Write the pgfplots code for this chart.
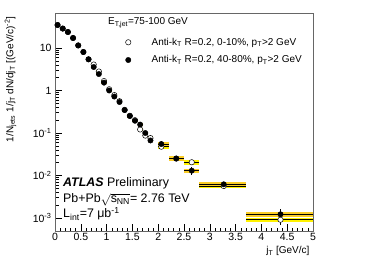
\documentclass[border=0pt]{standalone}
\usepackage{fontspec}
\setmainfont{Liberation Sans}
\usepackage{pgfplots}
\usepackage{pgfplotstable}
\pgfplotsset{compat=1.18}
\definecolor{sysyel}{RGB}{255,242,0}
\definecolor{sysorg}{RGB}{250,205,40}

% 0-10% (open)
\pgfplotstableread{
x y xm xp ey sy
0.05 34.8 0.05 0.05 0.3 2.0
0.15 28.7 0.05 0.05 0.3 1.7
0.25 23.8 0.05 0.05 0.3 1.4
0.35 17.2 0.05 0.05 0.2 1.0
0.45 11.5 0.05 0.05 0.15 0.7
0.55 8.05 0.05 0.05 0.1 0.5
0.65 5.42 0.05 0.05 0.08 0.35
0.75 4.09 0.05 0.05 0.06 0.28
0.85 2.80 0.05 0.05 0.05 0.2
0.95 1.67 0.05 0.05 0.03 0.12
1.05 1.07 0.05 0.05 0.02 0.08
1.15 0.78 0.05 0.05 0.015 0.06
1.25 0.56 0.05 0.05 0.012 0.045
1.35 0.35 0.05 0.05 0.01 0.03
1.45 0.255 0.05 0.05 0.008 0.022
1.55 0.20 0.05 0.05 0.007 0.018
1.65 0.121 0.05 0.05 0.006 0.011
1.75 0.087 0.05 0.05 0.005 0.008
1.85 0.076 0.05 0.05 0.005 0.007
2.06 0.0476 0.06 0.14 0.004 0.0057
2.35 0.0250 0.15 0.15 0.002 0.003
2.65 0.0205 0.15 0.15 0.002 0.0025
3.27 0.00566 0.47 0.43 0.0005 0.00068
4.37 0.00091 0.67 0.63 0.00022 0.00011
}\opendata

% 40-80% (filled)
\pgfplotstableread{
x y xm xp ey sy
0.05 34.8 0.05 0.05 0.5 2.0
0.15 28.7 0.05 0.05 0.4 1.7
0.25 23.8 0.05 0.05 0.4 1.4
0.35 17.2 0.05 0.05 0.3 1.0
0.45 11.5 0.05 0.05 0.2 0.7
0.55 8.05 0.05 0.05 0.15 0.5
0.65 5.42 0.05 0.05 0.12 0.35
0.75 3.57 0.05 0.05 0.1 0.25
0.85 2.44 0.05 0.05 0.08 0.17
0.95 1.53 0.05 0.05 0.06 0.11
1.05 1.00 0.05 0.05 0.04 0.07
1.15 0.72 0.05 0.05 0.03 0.05
1.25 0.536 0.05 0.05 0.025 0.04
1.35 0.347 0.05 0.05 0.02 0.025
1.45 0.251 0.05 0.05 0.015 0.02
1.55 0.194 0.05 0.05 0.013 0.015
1.65 0.158 0.05 0.05 0.012 0.012
1.75 0.100 0.05 0.05 0.01 0.008
1.85 0.0667 0.05 0.05 0.01 0.006
2.06 0.055 0.06 0.14 0.009 0.0066
2.35 0.0251 0.15 0.15 0.003 0.003
2.65 0.0130 0.15 0.15 0.003 0.0016
3.27 0.0062 0.47 0.43 0.0007 0.00074
4.37 0.00122 0.67 0.63 0.00042 0.00015
}\blackdata

\newcommand{\sysbox}[5]{\addplot[fill=#5, draw=none, forget plot] coordinates {(#1,#3)(#2,#3)(#2,#4)(#1,#4)};}

\begin{document}
\begin{tikzpicture}
\begin{axis}[
  name=ax,
  scale only axis, width=258pt, height=218pt,
  xmin=0, xmax=5, ymode=log, ymin=4.94e-4, ymax=66.7,
  xtick={0,0.5,...,5}, minor x tick num=4,
  ytick={1e-3,1e-2,1e-1,1,10},
  yticklabels={10\textsuperscript{-3},10\textsuperscript{-2},10\textsuperscript{-1},1,10},
  /pgf/number format/assume math mode=true,
  tick align=inside, xtick pos=bottom, ytick pos=left,
  major tick length=7pt, minor tick length=3.5pt,
  tick style={black, line width=0.5pt},
  axis line style={black!60, line width=0.6pt},
  ticklabel style={font=\fontsize{10.5}{12}\selectfont},
  xticklabel style={yshift=1pt},
  label style={font=\fontsize{10.5}{12}\selectfont},
  xlabel={j\textsubscript{T} [GeV/c]},
  ylabel={1/N\textsubscript{jets} 1/j\textsubscript{T} dN/dj\textsubscript{T} [(GeV/c)\textsuperscript{-2}]},
  every axis x label/.style={at={(rel axis cs:1,0)}, anchor=north east, yshift=-12pt},
  every axis y label/.style={at={(rel axis cs:-0.136,1)}, rotate=90, anchor=south east},
  legend style={draw=none, fill=none, at={(rel axis cs:0.233,0.905)}, anchor=north west,
    font=\fontsize{10}{11}\selectfont, row sep=5pt},
  legend cell align=left,
  legend image code/.code={\path[draw=none] (0cm,0cm) -- (1.1cm,0cm); \path[#1, draw=none] plot coordinates {(0.35cm,0cm)};},
  clip=true,
]
% legend entries
\addlegendimage{only marks, mark=*, mark size=2.7pt, mark options={fill=white, draw=black, line width=0.5pt}}
\addlegendentry{Anti-k\textsubscript{T} R=0.2, 0-10\%, p\textsubscript{T}>2 GeV}
\addlegendimage{only marks, mark=*, mark size=2.7pt, mark options={fill=black, draw=black}}
\addlegendentry{Anti-k\textsubscript{T} R=0.2, 40-80\%, p\textsubscript{T}>2 GeV}
% systematic boxes, wide bins
\sysbox{2.0}{2.2}{0.0419}{0.0533}{sysyel}
\sysbox{2.2}{2.5}{0.0220}{0.0280}{sysyel}
\sysbox{2.5}{2.8}{0.0180}{0.0230}{sysyel}
\sysbox{2.8}{3.7}{0.00498}{0.00634}{sysyel}
\sysbox{3.7}{5.0}{0.00080}{0.00102}{sysyel}
\sysbox{2.0}{2.2}{0.0484}{0.0616}{sysorg}
\sysbox{2.2}{2.5}{0.0221}{0.0281}{sysorg}
\sysbox{2.5}{2.8}{0.0114}{0.0146}{sysorg}
\sysbox{2.8}{3.7}{0.00546}{0.00694}{sysorg}
\sysbox{3.7}{5.0}{0.00107}{0.00137}{sysorg}
% systematic, narrow bins (bar width = 0.1 unit)
\addplot[only marks, mark=none, forget plot,
  error bars/.cd, y dir=both, y explicit, error mark=none,
  error bar style={line width=5.1pt, draw=sysyel}]
  table[x=x, y=y, y error=sy, restrict x to domain=0:1.9] {\opendata};
\addplot[only marks, mark=none, forget plot,
  error bars/.cd, y dir=both, y explicit, error mark=none,
  error bar style={line width=5.1pt, draw=sysorg}]
  table[x=x, y=y, y error=sy, restrict x to domain=0:1.9] {\blackdata};
% data
\addplot[only marks, forget plot, mark=*, mark size=2.7pt, mark options={fill=white, draw=black, line width=0.5pt},
  error bars/.cd, x dir=both, x explicit, y dir=both, y explicit, error mark=none,
  error bar style={black, line width=0.8pt}]
  table[x=x, y=y, x error plus=xp, x error minus=xm, y error=ey] {\opendata};
\addplot[only marks, forget plot, mark=*, mark size=2.7pt, mark options={fill=black, draw=black},
  error bars/.cd, x dir=both, x explicit, y dir=both, y explicit, error mark=none,
  error bar style={black, line width=0.8pt}]
  table[x=x, y=y, x error plus=xp, x error minus=xm, y error=ey] {\blackdata};
\node[anchor=west, font=\fontsize{10}{11}\selectfont, inner sep=0pt] at (rel axis cs:0.205,0.954) {E\textsubscript{T,jet}=75-100 GeV};
\node[anchor=base west, font=\fontsize{12.4}{14}\selectfont, inner sep=0pt] at (rel axis cs:0.031,0.202) {\textbf{\textit{ATLAS}} Preliminary};
\node[anchor=base west, font=\fontsize{12.4}{14}\selectfont, inner sep=0pt] at (rel axis cs:0.031,0.130) {Pb+Pb\(\sqrt{\mbox{s\textsubscript{NN}}}\)= 2.76 TeV};
\node[anchor=base west, font=\fontsize{12.4}{14}\selectfont, inner sep=0pt] at (rel axis cs:0.031,0.060) {L\textsubscript{int}=7 μb\textsuperscript{-1}};
\end{axis}
\pgfresetboundingbox
\path[use as bounding box] ([shift={(-55pt,-33pt)}]ax.south west) rectangle ([shift={(55pt,13pt)}]ax.north east);
\end{tikzpicture}
\end{document}
